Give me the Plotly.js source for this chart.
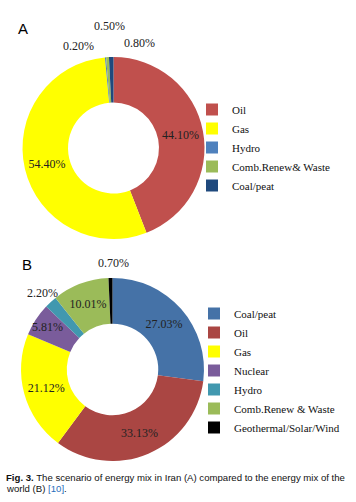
<!DOCTYPE html>
<html>
<head>
<meta charset="utf-8">
<script src="https://cdn.plot.ly/plotly-3.0.1.min.js"></script>
<style>html,body{margin:0;padding:0;background:#fff;}#chart{width:356px;height:502px;}</style>
</head>
<body>
<div id="chart"></div>
<script>
// Chart A: Iran energy mix
var labelsA = ['Oil', 'Gas', 'Hydro', 'Comb.Renew& Waste', 'Coal/peat'];
var valuesA = [44.10, 54.40, 0.20, 0.50, 0.80];
var colorsA = ['#C0504D', '#FFFF00', '#4F81BD', '#9BBB59', '#1F497D'];

// Chart B: world energy mix
var labelsB = ['Coal/peat', 'Oil', 'Gas', 'Nuclear', 'Hydro', 'Comb.Renew & Waste', 'Geothermal/Solar/Wind'];
var valuesB = [27.03, 33.13, 21.12, 5.81, 2.20, 10.01, 0.70];
var colorsB = ['#4572A7', '#AA4643', '#FFFF00', '#7A5C9B', '#4198AF', '#9BBB59', '#000000'];

var W = 356, H = 502;
function fmt(v) { return v.toFixed(2) + '%'; }
function px(x) { return x / W; }
function py(y) { return 1 - y / H; }

var serif = 'Liberation Serif, Times New Roman, serif';
var sans = 'Liberation Sans, Arial, sans-serif';
var labelFont = {family: serif, size: 12, color: '#222'};

var traceA = {
  type: 'pie', labels: labelsA, values: valuesA,
  text: valuesA.map(fmt), textinfo: 'text',
  textposition: ['inside', 'inside', 'none', 'none', 'none'],
  insidetextorientation: 'horizontal',
  textfont: labelFont,
  marker: {colors: colorsA, line: {width: 0}},
  hole: 0.5, sort: false, direction: 'clockwise', rotation: 0,
  domain: {x: [px(22), px(205)], y: [py(239), py(57)]},
  legend: 'legend', hoverinfo: 'label+text'
};
// zero-width space keeps chart B's legend entries separate from chart A's
var traceB = {
  type: 'pie', labels: labelsB.map(function (l) { return l + '\u200B'; }), values: valuesB,
  text: valuesB.map(fmt), textinfo: 'text',
  textposition: ['inside', 'inside', 'inside', 'inside', 'none', 'inside', 'none'],
  insidetextorientation: 'horizontal',
  textfont: labelFont,
  marker: {colors: colorsB, line: {width: 0}},
  hole: 0.5, sort: false, direction: 'clockwise', rotation: 0,
  domain: {x: [px(21), px(204)], y: [py(462), py(277)]},
  legend: 'legend2', hoverinfo: 'label+text'
};

var outsideA = [[2, 78, 46], [3, 109, 26], [4, 139, 43]];
var outsideB = [[6, 113, 263], [4, 42, 293]];

var annotations = [];
outsideA.forEach(function (o) {
  annotations.push({text: fmt(valuesA[o[0]]), x: px(o[1]), y: py(o[2]), xref: 'paper', yref: 'paper',
    xanchor: 'center', yanchor: 'middle', showarrow: false, font: labelFont});
});
outsideB.forEach(function (o) {
  annotations.push({text: fmt(valuesB[o[0]]), x: px(o[1]), y: py(o[2]), xref: 'paper', yref: 'paper',
    xanchor: 'center', yanchor: 'middle', showarrow: false, font: labelFont});
});
annotations.push({text: 'A', x: px(23.5), y: py(29), xref: 'paper', yref: 'paper', xanchor: 'center', yanchor: 'middle',
  showarrow: false, font: {family: sans, size: 15, color: '#000'}});
annotations.push({text: 'B', x: px(27.5), y: py(264), xref: 'paper', yref: 'paper', xanchor: 'center', yanchor: 'middle',
  showarrow: false, font: {family: sans, size: 15, color: '#000'}});
annotations.push({text: '<b>Fig. 3.</b> The scenario of energy mix in Iran (A) compared to the energy mix of the',
  x: px(4), y: py(477), xref: 'paper', yref: 'paper', xanchor: 'left', yanchor: 'middle', showarrow: false,
  font: {family: sans, size: 9.6, color: '#111'}});
annotations.push({text: 'world (B) <span style="color:#2A6EBB">[10]</span>.',
  x: px(4), y: py(488.5), xref: 'paper', yref: 'paper', xanchor: 'left', yanchor: 'middle', showarrow: false,
  font: {family: sans, size: 9.6, color: '#111'}});

var legendFont = {family: serif, size: 11, color: '#111'};
var layout = {
  width: W, height: H,
  margin: {l: 0, r: 0, t: 0, b: 0},
  paper_bgcolor: '#fff', plot_bgcolor: '#fff',
  showlegend: true,
  uniformtext: {mode: 'show', minsize: 12},
  legend: {x: px(192), y: py(95), xanchor: 'left', yanchor: 'top', font: legendFont, bgcolor: 'rgba(0,0,0,0)', traceorder: 'normal'},
  legend2: {x: px(194), y: py(299), xanchor: 'left', yanchor: 'top', font: legendFont, bgcolor: 'rgba(0,0,0,0)', traceorder: 'normal'},
  annotations: annotations
};

Plotly.newPlot('chart', [traceA, traceB], layout, {displayModeBar: false, staticPlot: true});
</script>
</body>
</html>
